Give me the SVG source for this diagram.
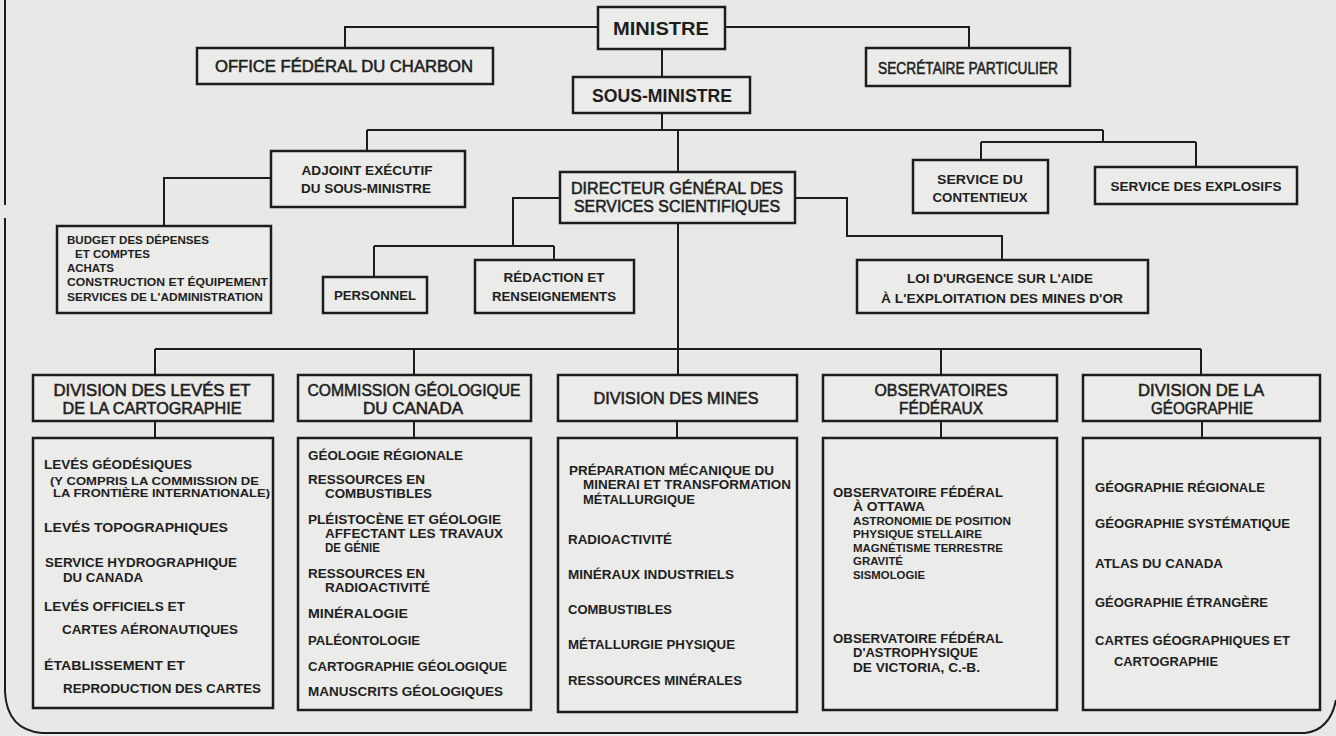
<svg xmlns="http://www.w3.org/2000/svg" width="1336" height="736" viewBox="0 0 1336 736">
<style>
.bg{fill:#e8e8e6}
.box{fill:#ebebe9;stroke:#1c1c1c;stroke-width:2.5}
.ln{fill:none;stroke:#1c1c1c;stroke-width:2}
text{font-family:"Liberation Sans",Arial,sans-serif;fill:#1e1e1e}
.c{text-anchor:middle}
.r{font-weight:400;stroke:#1e1e1e;stroke-width:0.55}
.b{font-weight:700}
.s18{font-size:18px}
.s16{font-size:16px}
.s15{font-size:15px}
.s14{font-size:13.5px}
.s11{font-size:11px}
.s10{font-size:10.5px}
</style>
<rect class="bg" x="0" y="0" width="1336" height="736"/>
<g id="border">
<path class="ln" d="M5,0 V205 M5,218 V692 Q7,730 42,733 H1305 Q1330,730 1336,700"/>
</g>
<g id="connectors">
<path class="ln" d="M598,27 H345 V48 M725,27 H969 V48 M662,49 V77 M662,113 V130 M367,130 H1103 M367,130 V151 M678,130 V172 M1103,130 V142 M981,142 H1196 M981,142 V160 M1196,142 V167 M271,178 H164 V226 M560,198 H513 V246 M374,246 H554 M374,246 V277 M554,246 V260 M795,198 H847 V236 H1002 V260 M678,223 V349 M155,349 H1201 M155,349 V375 M414,349 V375 M678,349 V375 M941,349 V375 M1201,349 V375 M155,421 V438 M414,421 V438 M677,421 V438 M941,421 V438 M1202,421 V438"/>
</g>
<g id="ministre"><rect class="box" x="598" y="7" width="127" height="42"/><text class="c b s18" x="661" y="35" textLength="96" lengthAdjust="spacingAndGlyphs">MINISTRE</text></g>
<g id="office"><rect class="box" x="197" y="48" width="296" height="36"/><text class="c r s16" x="344" y="72" textLength="258" lengthAdjust="spacingAndGlyphs">OFFICE FÉDÉRAL DU CHARBON</text></g>
<g id="secretaire"><rect class="box" x="866" y="48" width="204" height="38"/><text class="c r s16" x="968" y="74" textLength="180" lengthAdjust="spacingAndGlyphs">SECRÉTAIRE PARTICULIER</text></g>
<g id="sousministre"><rect class="box" x="573" y="77" width="177" height="36"/><text class="c b s18" x="662" y="102" textLength="140" lengthAdjust="spacingAndGlyphs">SOUS-MINISTRE</text></g>
<g id="adjoint"><rect class="box" x="271" y="151" width="194" height="56"/><text class="c b s14" x="367" y="175" textLength="131" lengthAdjust="spacingAndGlyphs">ADJOINT EXÉCUTIF</text><text class="c b s14" x="366" y="193" textLength="130" lengthAdjust="spacingAndGlyphs">DU SOUS-MINISTRE</text></g>
<g id="budget"><rect class="box" x="57" y="226" width="214" height="87"/>
<text class="b s10" x="67" y="244" textLength="142" lengthAdjust="spacingAndGlyphs">BUDGET DES DÉPENSES</text>
<text class="b s10" x="75" y="258" textLength="75" lengthAdjust="spacingAndGlyphs">ET COMPTES</text>
<text class="b s10" x="67" y="272" textLength="47" lengthAdjust="spacingAndGlyphs">ACHATS</text>
<text class="b s10" x="67" y="286" textLength="201" lengthAdjust="spacingAndGlyphs">CONSTRUCTION ET ÉQUIPEMENT</text>
<text class="b s10" x="67" y="301" textLength="196" lengthAdjust="spacingAndGlyphs">SERVICES DE L'ADMINISTRATION</text></g>
<g id="directeur"><rect class="box" x="560" y="172" width="235" height="51"/><text class="c r s16" x="677" y="194" textLength="212" lengthAdjust="spacingAndGlyphs">DIRECTEUR GÉNÉRAL DES</text><text class="c r s16" x="677" y="212" textLength="206" lengthAdjust="spacingAndGlyphs">SERVICES SCIENTIFIQUES</text></g>
<g id="personnel"><rect class="box" x="323" y="277" width="104" height="36"/><text class="c b s14" x="375" y="300" textLength="82" lengthAdjust="spacingAndGlyphs">PERSONNEL</text></g>
<g id="redaction"><rect class="box" x="475" y="260" width="159" height="53"/><text class="c b s14" x="554" y="282" textLength="101" lengthAdjust="spacingAndGlyphs">RÉDACTION ET</text><text class="c b s14" x="554" y="301" textLength="124" lengthAdjust="spacingAndGlyphs">RENSEIGNEMENTS</text></g>
<g id="loi"><rect class="box" x="857" y="260" width="291" height="53"/><text class="c b s14" x="1000" y="283" textLength="186" lengthAdjust="spacingAndGlyphs">LOI D'URGENCE SUR L'AIDE</text><text class="c b s14" x="1002" y="303" textLength="242" lengthAdjust="spacingAndGlyphs">À L'EXPLOITATION DES MINES D'OR</text></g>
<g id="contentieux"><rect class="box" x="913" y="160" width="135" height="53"/><text class="c b s14" x="980" y="184" textLength="86" lengthAdjust="spacingAndGlyphs">SERVICE DU</text><text class="c b s14" x="980" y="202" textLength="95" lengthAdjust="spacingAndGlyphs">CONTENTIEUX</text></g>
<g id="explosifs"><rect class="box" x="1095" y="167" width="202" height="37"/><text class="c b s14" x="1196" y="191" textLength="171" lengthAdjust="spacingAndGlyphs">SERVICE DES EXPLOSIFS</text></g>
<g id="div-leves"><rect class="box" x="33" y="375" width="240" height="46"/><text class="c r s16" x="152" y="396" textLength="197" lengthAdjust="spacingAndGlyphs">DIVISION DES LEVÉS ET</text><text class="c r s16" x="152" y="414" textLength="179" lengthAdjust="spacingAndGlyphs">DE LA CARTOGRAPHIE</text></g>
<g id="leves-list"><rect class="box" x="33" y="438" width="240" height="270"/>
<text class="b s14" x="44" y="469" textLength="148" lengthAdjust="spacingAndGlyphs">LEVÉS GÉODÉSIQUES</text>
<text class="b s11" x="50" y="485" textLength="209" lengthAdjust="spacingAndGlyphs">(Y COMPRIS LA COMMISSION DE</text>
<text class="b s11" x="53" y="497" textLength="217" lengthAdjust="spacingAndGlyphs">LA FRONTIÈRE INTERNATIONALE)</text>
<text class="b s14" x="44" y="532" textLength="184" lengthAdjust="spacingAndGlyphs">LEVÉS TOPOGRAPHIQUES</text>
<text class="b s14" x="45" y="567" textLength="192" lengthAdjust="spacingAndGlyphs">SERVICE HYDROGRAPHIQUE</text>
<text class="b s14" x="63" y="582" textLength="80" lengthAdjust="spacingAndGlyphs">DU CANADA</text>
<text class="b s14" x="44" y="611" textLength="141" lengthAdjust="spacingAndGlyphs">LEVÉS OFFICIELS ET</text>
<text class="b s14" x="62" y="634" textLength="176" lengthAdjust="spacingAndGlyphs">CARTES AÉRONAUTIQUES</text>
<text class="b s14" x="44" y="670" textLength="141" lengthAdjust="spacingAndGlyphs">ÉTABLISSEMENT ET</text>
<text class="b s14" x="63" y="693" textLength="198" lengthAdjust="spacingAndGlyphs">REPRODUCTION DES CARTES</text></g>
<g id="div-geologie"><rect class="box" x="298" y="375" width="233" height="46"/><text class="c r s16" x="414" y="396" textLength="213" lengthAdjust="spacingAndGlyphs">COMMISSION GÉOLOGIQUE</text><text class="c r s16" x="413" y="414" textLength="100" lengthAdjust="spacingAndGlyphs">DU CANADA</text></g>
<g id="geologie-list"><rect class="box" x="298" y="438" width="233" height="272"/>
<text class="b s14" x="308" y="460" textLength="155" lengthAdjust="spacingAndGlyphs">GÉOLOGIE RÉGIONALE</text>
<text class="b s14" x="308" y="484" textLength="117" lengthAdjust="spacingAndGlyphs">RESSOURCES EN</text>
<text class="b s14" x="325" y="498" textLength="107" lengthAdjust="spacingAndGlyphs">COMBUSTIBLES</text>
<text class="b s14" x="308" y="524" textLength="193" lengthAdjust="spacingAndGlyphs">PLÉISTOCÈNE ET GÉOLOGIE</text>
<text class="b s14" x="325" y="538" textLength="178" lengthAdjust="spacingAndGlyphs">AFFECTANT LES TRAVAUX</text>
<text class="b s14" x="325" y="552" textLength="55" lengthAdjust="spacingAndGlyphs">DE GÉNIE</text>
<text class="b s14" x="308" y="578" textLength="117" lengthAdjust="spacingAndGlyphs">RESSOURCES EN</text>
<text class="b s14" x="325" y="592" textLength="105" lengthAdjust="spacingAndGlyphs">RADIOACTIVITÉ</text>
<text class="b s14" x="308" y="618" textLength="100" lengthAdjust="spacingAndGlyphs">MINÉRALOGIE</text>
<text class="b s14" x="308" y="645" textLength="112" lengthAdjust="spacingAndGlyphs">PALÉONTOLOGIE</text>
<text class="b s14" x="308" y="671" textLength="199" lengthAdjust="spacingAndGlyphs">CARTOGRAPHIE GÉOLOGIQUE</text>
<text class="b s14" x="308" y="696" textLength="195" lengthAdjust="spacingAndGlyphs">MANUSCRITS GÉOLOGIQUES</text></g>
<g id="div-mines"><rect class="box" x="558" y="375" width="239" height="46"/><text class="c r s16" x="676" y="404" textLength="165" lengthAdjust="spacingAndGlyphs">DIVISION DES MINES</text></g>
<g id="mines-list"><rect class="box" x="558" y="438" width="239" height="274"/>
<text class="b s14" x="569" y="475" textLength="205" lengthAdjust="spacingAndGlyphs">PRÉPARATION MÉCANIQUE DU</text>
<text class="b s14" x="583" y="489" textLength="208" lengthAdjust="spacingAndGlyphs">MINERAI ET TRANSFORMATION</text>
<text class="b s14" x="583" y="504" textLength="112" lengthAdjust="spacingAndGlyphs">MÉTALLURGIQUE</text>
<text class="b s14" x="568" y="544" textLength="104" lengthAdjust="spacingAndGlyphs">RADIOACTIVITÉ</text>
<text class="b s14" x="568" y="579" textLength="166" lengthAdjust="spacingAndGlyphs">MINÉRAUX INDUSTRIELS</text>
<text class="b s14" x="568" y="614" textLength="104" lengthAdjust="spacingAndGlyphs">COMBUSTIBLES</text>
<text class="b s14" x="568" y="649" textLength="167" lengthAdjust="spacingAndGlyphs">MÉTALLURGIE PHYSIQUE</text>
<text class="b s14" x="568" y="685" textLength="174" lengthAdjust="spacingAndGlyphs">RESSOURCES MINÉRALES</text></g>
<g id="div-observatoires"><rect class="box" x="823" y="375" width="234" height="46"/><text class="c r s16" x="941" y="396" textLength="133" lengthAdjust="spacingAndGlyphs">OBSERVATOIRES</text><text class="c r s16" x="941" y="414" textLength="84" lengthAdjust="spacingAndGlyphs">FÉDÉRAUX</text></g>
<g id="observatoires-list"><rect class="box" x="823" y="438" width="234" height="272"/>
<text class="b s14" x="833" y="497" textLength="170" lengthAdjust="spacingAndGlyphs">OBSERVATOIRE FÉDÉRAL</text>
<text class="b s14" x="853" y="511" textLength="72" lengthAdjust="spacingAndGlyphs">À OTTAWA</text>
<text class="b s11" x="853" y="525" textLength="158" lengthAdjust="spacingAndGlyphs">ASTRONOMIE DE POSITION</text>
<text class="b s11" x="853" y="538" textLength="129" lengthAdjust="spacingAndGlyphs">PHYSIQUE STELLAIRE</text>
<text class="b s11" x="853" y="552" textLength="150" lengthAdjust="spacingAndGlyphs">MAGNÉTISME TERRESTRE</text>
<text class="b s11" x="853" y="565" textLength="50" lengthAdjust="spacingAndGlyphs">GRAVITÉ</text>
<text class="b s11" x="853" y="579" textLength="72" lengthAdjust="spacingAndGlyphs">SISMOLOGIE</text>
<text class="b s14" x="833" y="643" textLength="170" lengthAdjust="spacingAndGlyphs">OBSERVATOIRE FÉDÉRAL</text>
<text class="b s14" x="853" y="657" textLength="125" lengthAdjust="spacingAndGlyphs">D'ASTROPHYSIQUE</text>
<text class="b s14" x="853" y="672" textLength="127" lengthAdjust="spacingAndGlyphs">DE VICTORIA, C.-B.</text></g>
<g id="div-geographie"><rect class="box" x="1083" y="375" width="237" height="46"/><text class="c r s16" x="1201" y="396" textLength="126" lengthAdjust="spacingAndGlyphs">DIVISION DE LA</text><text class="c r s16" x="1202" y="414" textLength="102" lengthAdjust="spacingAndGlyphs">GÉOGRAPHIE</text></g>
<g id="geographie-list"><rect class="box" x="1083" y="438" width="237" height="272"/>
<text class="b s14" x="1095" y="492" textLength="170" lengthAdjust="spacingAndGlyphs">GÉOGRAPHIE RÉGIONALE</text>
<text class="b s14" x="1095" y="528" textLength="195" lengthAdjust="spacingAndGlyphs">GÉOGRAPHIE SYSTÉMATIQUE</text>
<text class="b s14" x="1095" y="568" textLength="128" lengthAdjust="spacingAndGlyphs">ATLAS DU CANADA</text>
<text class="b s14" x="1095" y="607" textLength="173" lengthAdjust="spacingAndGlyphs">GÉOGRAPHIE ÉTRANGÈRE</text>
<text class="b s14" x="1095" y="645" textLength="195" lengthAdjust="spacingAndGlyphs">CARTES GÉOGRAPHIQUES ET</text>
<text class="b s14" x="1114" y="666" textLength="104" lengthAdjust="spacingAndGlyphs">CARTOGRAPHIE</text></g>
</svg>
